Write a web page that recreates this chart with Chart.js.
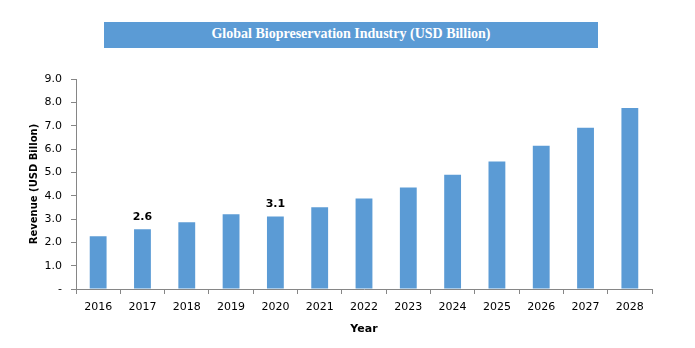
<!DOCTYPE html>
<html><head><meta charset="utf-8">
<script src="https://cdn.jsdelivr.net/npm/chart.js@4"></script>
<style>
html,body{margin:0;padding:0;background:#fff;}
#wrap{position:relative;width:695px;height:348px;}
#title{position:absolute;left:104px;top:22px;width:494px;height:26px;background:#5B9BD5;color:#fff;font-family:"Liberation Serif",serif;font-weight:bold;font-size:14px;line-height:24px;text-align:center;}
canvas{position:absolute;left:0;top:0;}
</style></head>
<body><div id="wrap"><canvas id="c" width="695" height="348"></canvas><div id="title">Global Biopreservation Industry (USD Billion)</div></div>
<script>
const categories = ["2016","2017","2018","2019","2020","2021","2022","2023","2024","2025","2026","2027","2028"];
const revenue = [2.26, 2.56, 2.86, 3.2, 3.11, 3.5, 3.88, 4.35, 4.9, 5.46, 6.14, 6.91, 7.76];
const labelledIndices = [1, 4];
const labelTexts = ["2.6", "3.1"];
const yTitle = "Revenue (USD Billon)";
const xTitle = "Year";

const tickFont = {family: "'DejaVu Sans', Verdana, sans-serif", size: 11};
const axisColor = "#868686";

const labelPlugin = {
  id: 'labels',
  afterDatasetsDraw(chart) {
    const ctx = chart.ctx;
    const meta = chart.getDatasetMeta(0);
    ctx.save();
    ctx.font = "bold 11px 'DejaVu Sans', Verdana, sans-serif";
    ctx.fillStyle = "#000";
    ctx.textAlign = "center";
    ctx.textBaseline = "bottom";
    labelledIndices.forEach((idx, k) => {
      const el = meta.data[idx];
      ctx.fillText(labelTexts[k], el.x, el.y - 7);
    });
    ctx.restore();
  }
};

new Chart(document.getElementById('c'), {
  type: 'bar',
  data: {
    labels: categories,
    datasets: [{data: revenue, backgroundColor: '#5B9BD5', barPercentage: 0.38, categoryPercentage: 1}]
  },
  options: {
    responsive: false,
    animation: false,
    layout: {padding: {top: 79, right: 43, bottom: 12, left: 0}},
    plugins: {legend: {display: false}, tooltip: {enabled: false}, title: {display: false}},
    scales: {
      x: {
        grid: {display: true, offset: true, drawOnChartArea: false, drawTicks: true, tickLength: 5, color: axisColor},
        border: {display: true, color: axisColor},
        ticks: {font: tickFont, color: '#000', padding: 7, maxRotation: 0},
        title: {display: true, text: xTitle, font: {family: "'DejaVu Sans', Verdana, sans-serif", size: 11, weight: 'bold'}, color: '#000', padding: {top: 6, bottom: 0}},
        afterFit(s) { s.height = 47; }
      },
      y: {
        min: 0, max: 9,
        grid: {display: true, drawOnChartArea: false, drawTicks: true, tickLength: 5, color: axisColor},
        border: {display: true, color: axisColor},
        ticks: {stepSize: 1, font: tickFont, color: '#000', padding: 9,
          callback: v => v === 0 ? '-' : v.toFixed(1)},
        title: {display: true, text: yTitle, font: {family: "'DejaVu Sans', Verdana, sans-serif", size: 10, weight: 'bold'}, color: '#000', padding: {top: 28, bottom: 4}},
        afterFit(s) { s.width = 76; }
      }
    }
  },
  plugins: [labelPlugin]
});
</script></body></html>
